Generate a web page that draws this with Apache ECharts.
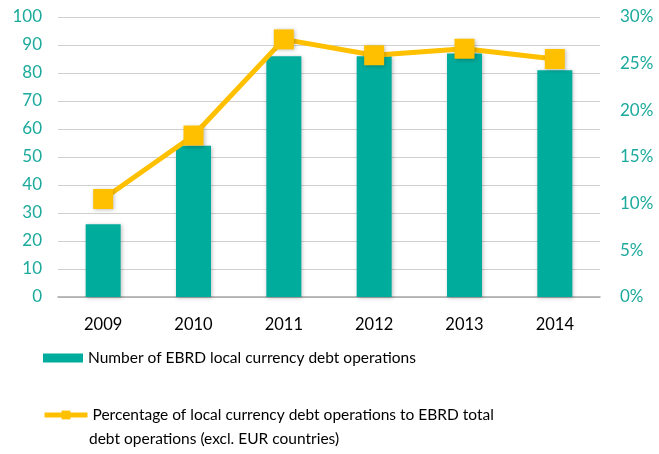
<!DOCTYPE html>
<html>
<head>
<meta charset="utf-8">
<script src="https://cdn.jsdelivr.net/npm/echarts@6/dist/echarts.min.js"></script>
<style>html,body{margin:0;padding:0;background:#fff;}#c{width:659px;height:454px;}</style>
</head>
<body>
<div id="c"></div>
<script>
const years = ['2009', '2010', '2011', '2012', '2013', '2014'];
const operations = [26, 54, 86, 86, 87, 81];
const percentage = [10.5, 17.3, 27.6, 25.9, 26.6, 25.5];
const leftTicks = { min: 0, max: 100, interval: 10 };
const rightTicks = { min: 0, max: 30, interval: 5 };
const barName = 'Number of EBRD local currency debt operations';
const lineName = 'Percentage of local currency debt operations to EBRD total';
const lineName2 = 'debt operations (excl. EUR countries)';

const FONT = 'Lato';
const TEAL = '#00AC9C';
const GOLD = '#FFC000';
const LABEL_TEAL = '#1BAA9C';
const LEGEND_FS = 15.5;

const chart = echarts.init(document.getElementById('c'));
chart.setOption({
  animation: false,
  textStyle: { fontFamily: FONT },
  grid: { left: 58, right: 59, top: 17, height: 280 },
  legend: [
    {
      data: [{ name: barName, icon: 'rect' }], left: 43, top: 350, padding: 0, itemWidth: 40, itemHeight: 9, itemGap: 5,
      textStyle: { fontSize: LEGEND_FS, color: '#000', fontFamily: FONT }
    },
    {
      data: [lineName], left: 42, top: 407, padding: 0, itemWidth: 43, itemHeight: 11, itemGap: 5,
      lineStyle: { width: 5 },
      textStyle: { fontSize: LEGEND_FS, color: '#000', fontFamily: FONT }
    }
  ],
  graphic: [{
    type: 'text', left: 89, top: 431,
    style: { text: lineName2, fontSize: LEGEND_FS, fill: '#000', fontFamily: FONT }
  }],
  xAxis: {
    type: 'category', data: years,
    axisTick: { show: false },
    axisLine: { lineStyle: { color: '#A6A6A6', width: 1.5 } },
    axisLabel: { color: '#000', fontSize: 16.5, margin: 19, fontFamily: FONT }
  },
  yAxis: [
    {
      type: 'value', min: leftTicks.min, max: leftTicks.max, interval: leftTicks.interval,
      axisLine: { show: false }, axisTick: { show: false },
      splitLine: { lineStyle: { color: '#D0D0D0', width: 1 } },
      axisLabel: { color: LABEL_TEAL, fontSize: 17, margin: 16, fontFamily: FONT }
    },
    {
      type: 'value', min: rightTicks.min, max: rightTicks.max, interval: rightTicks.interval,
      axisLine: { show: false }, axisTick: { show: false }, splitLine: { show: false },
      axisLabel: { color: LABEL_TEAL, fontSize: 17, margin: 20, fontFamily: FONT, formatter: v => v + '%' }
    }
  ],
  series: [
    {
      name: barName, type: 'bar', data: operations, barWidth: 35, yAxisIndex: 0,
      itemStyle: { color: TEAL, shadowBlur: 4, shadowColor: 'rgba(0,0,0,0.25)', shadowOffsetX: 1, shadowOffsetY: 1 }
    },
    {
      name: lineName, type: 'line', data: percentage, yAxisIndex: 1,
      symbol: 'rect', symbolSize: 20,
      lineStyle: { color: GOLD, width: 5 },
      itemStyle: { color: GOLD, shadowBlur: 4, shadowColor: 'rgba(0,0,0,0.25)', shadowOffsetX: 1, shadowOffsetY: 1 }
    }
  ]
});
</script>
</body>
</html>
